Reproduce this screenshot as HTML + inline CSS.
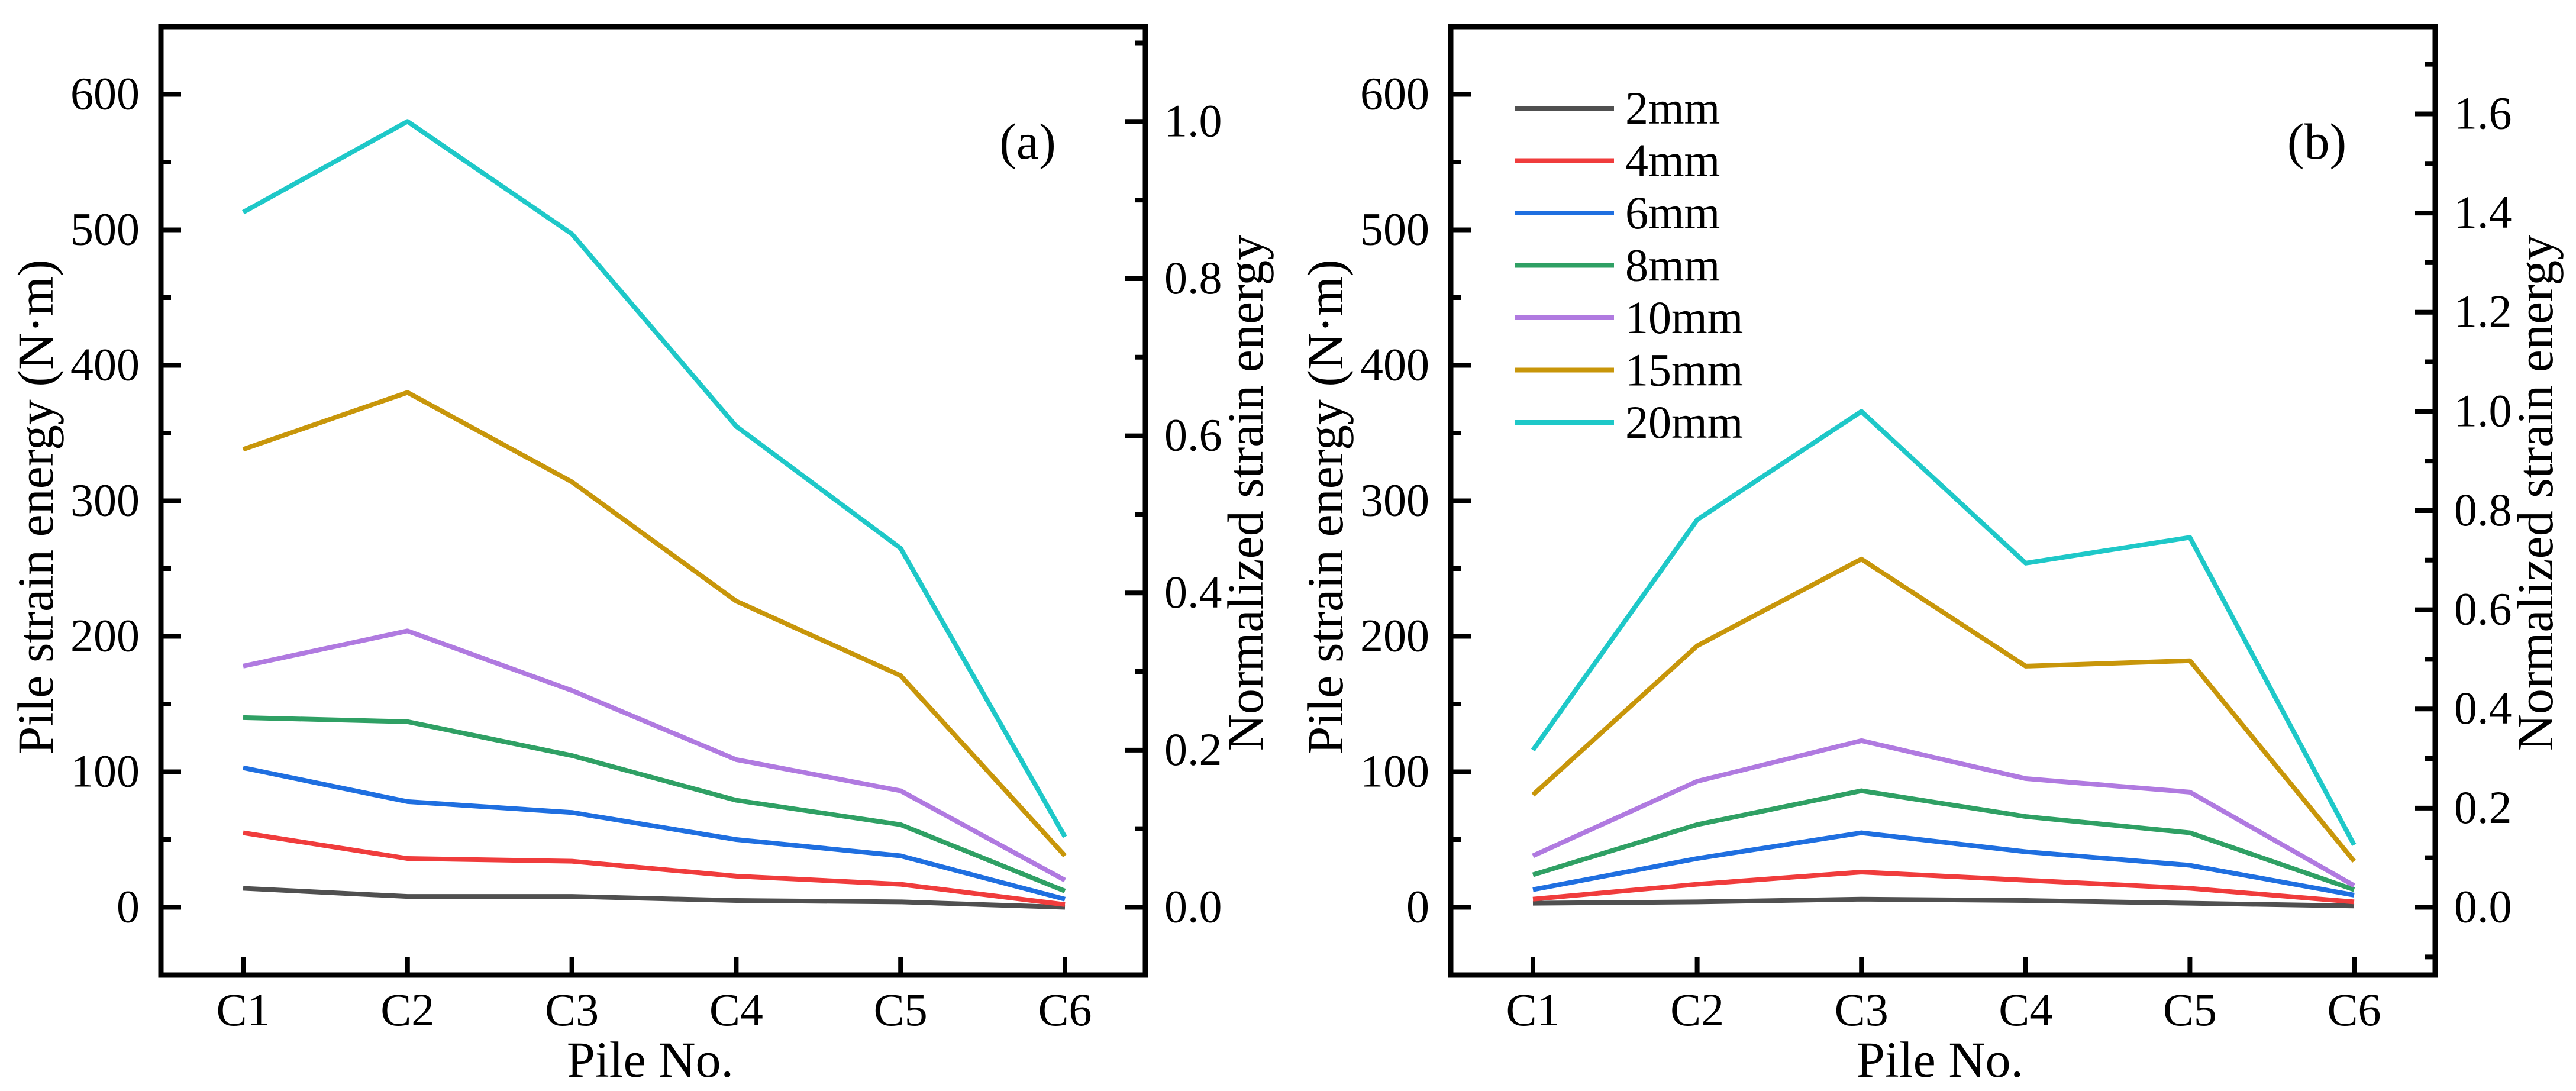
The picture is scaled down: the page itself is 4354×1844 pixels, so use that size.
<!DOCTYPE html>
<html><head><meta charset="utf-8"><style>
html,body{margin:0;padding:0;background:#fff;}
svg{display:block;font-family:"Liberation Serif",serif;}
</style></head><body>
<svg id="chart" width="4354" height="1844" viewBox="0 0 4354 1844" xmlns="http://www.w3.org/2000/svg"></svg>
<script>
const categories = ["C1","C2","C3","C4","C5","C6"];
const seriesNames = ["2mm","4mm","6mm","8mm","10mm","15mm","20mm"];
const seriesColors = ["#505050","#f03c3c","#1f6fe0","#2fa064","#b07ae0","#c8960a","#1ec8c8"];
const panelA_2mm = [14,8,8,5,4,0];
const panelA_4mm = [55,36,34,23,17,2];
const panelA_6mm = [103,78,70,50,38,6];
const panelA_8mm = [140,137,112,79,61,12];
const panelA_10mm = [178,204,160,109,86,20];
const panelA_15mm = [338,380,314,226,171,38];
const panelA_20mm = [513,580,497,355,265,52];
const panelB_2mm = [3,4,6,5,3,1];
const panelB_4mm = [6,17,26,20,14,4];
const panelB_6mm = [13,36,55,41,31,9];
const panelB_8mm = [24,61,86,67,55,13];
const panelB_10mm = [38,93,123,95,85,16];
const panelB_15mm = [83,193,257,178,182,34];
const panelB_20mm = [116,286,366,254,273,46];
const leftTicks = [0,100,200,300,400,500,600];
const rightTicksA = [0.0,0.2,0.4,0.6,0.8,1.0];
const rightTicksB = [0.0,0.2,0.4,0.6,0.8,1.0,1.2,1.4,1.6];
const normA = 580, normB = 366;

const NS="http://www.w3.org/2000/svg";
const svg=document.getElementById('chart');
function mk(tag,attrs,parent){const e=document.createElementNS(NS,tag);for(const k in attrs)e.setAttribute(k,attrs[k]);(parent||svg).appendChild(e);return e;}

function drawPanel(cfg){
  const g=mk('g',{});
  
  
  const L=cfg.left,R=cfg.right,T=45,B=1648;
  const yMin=-50,yMax=650;
  const y=v=>B-(v-yMin)/(yMax-yMin)*(B-T);
  const x=i=>cfg.c1+i*(cfg.c6-cfg.c1)/5;
  const yR=v=>y(v*cfg.norm);
  cfg.data.forEach((arr,si)=>{
    const p=mk('polyline',{points:arr.map((v,i)=>x(i)+','+y(v)).join(' '),fill:'none',stroke:seriesColors[si],'stroke-width':8,'stroke-linejoin':'round'},g);
    
    
  });
  const f=mk('rect',{x:L,y:T,width:R-L,height:B-T,fill:'none',stroke:'#000','stroke-width':9},g);
  
  
  for(let v=-50;v<=650;v+=50){
    const major=v%100===0;
    mk('line',{x1:L,x2:L+(major?34:17),y1:y(v),y2:y(v),stroke:'#000','stroke-width':8},g);
  }
  leftTicks.forEach(v=>{
    const t=mk('text',{x:L-36,y:y(v)+25,'text-anchor':'end','font-size':78},g);
    t.textContent=v;
    
    
  });
  const rMax=cfg.rightTicks[cfg.rightTicks.length-1]+0.1;
  for(let k=-1;k*0.1<=rMax+1e-9;k++){
    const v=k*0.1;const yy=yR(v);
    if(yy<T||yy>B)continue;
    const major=k%2===0;
    mk('line',{x1:R,x2:R-(major?34:17),y1:yy,y2:yy,stroke:'#000','stroke-width':8},g);
  }
  cfg.rightTicks.forEach(v=>{
    const t=mk('text',{x:R+32,y:yR(v)+25,'font-size':78},g);
    t.textContent=v.toFixed(1);
    
    
  });
  categories.forEach((c,i)=>{
    mk('line',{x1:x(i),x2:x(i),y1:B,y2:B-30,stroke:'#000','stroke-width':8},g);
    const t=mk('text',{x:x(i),y:1733,'text-anchor':'middle','font-size':78},g);
    t.textContent=c;
    
    
  });
  const xt=mk('text',{x:(L+R)/2-5,y:1820,'text-anchor':'middle','font-size':86},g);
  xt.textContent='Pile No.';
  
  
  const yt=mk('text',{x:0,y:0,'text-anchor':'middle','font-size':86,transform:'translate('+(L-183)+',857) rotate(-90)'},g);
  yt.textContent='Pile strain energy (N·m)';
  
  
  const rt=mk('text',{x:0,y:0,'text-anchor':'middle','font-size':86,transform:'translate('+(R+198)+',833) rotate(-90)'},g);
  rt.textContent='Normalized strain energy';
  
  
  const pl=mk('text',{x:cfg.labelX,y:268,'text-anchor':'middle','font-size':86},g);
  pl.textContent=cfg.label;
  
  
  return g;
}

drawPanel({name:'panel-a',left:272,right:1936,c1:411,c6:1800,norm:normA,rightTicks:rightTicksA,label:'(a)',labelX:1737,
  data:[panelA_2mm,panelA_4mm,panelA_6mm,panelA_8mm,panelA_10mm,panelA_15mm,panelA_20mm]});
drawPanel({name:'panel-b',left:2452,right:4116,c1:2591,c6:3979,norm:normB,rightTicks:rightTicksB,label:'(b)',labelX:3916,
  data:[panelB_2mm,panelB_4mm,panelB_6mm,panelB_8mm,panelB_10mm,panelB_15mm,panelB_20mm]});

const lg=mk('g',{});


seriesNames.forEach((n,i)=>{
  const yy=183+i*88.5;
  const e=mk('g',{},lg);
  
  
  mk('line',{x1:2561,x2:2728,y1:yy,y2:yy,stroke:seriesColors[i],'stroke-width':8},e);
  const t=mk('text',{x:2747,y:yy+26,'font-size':78},e);
  t.textContent=n;
});
</script>
</body></html>
